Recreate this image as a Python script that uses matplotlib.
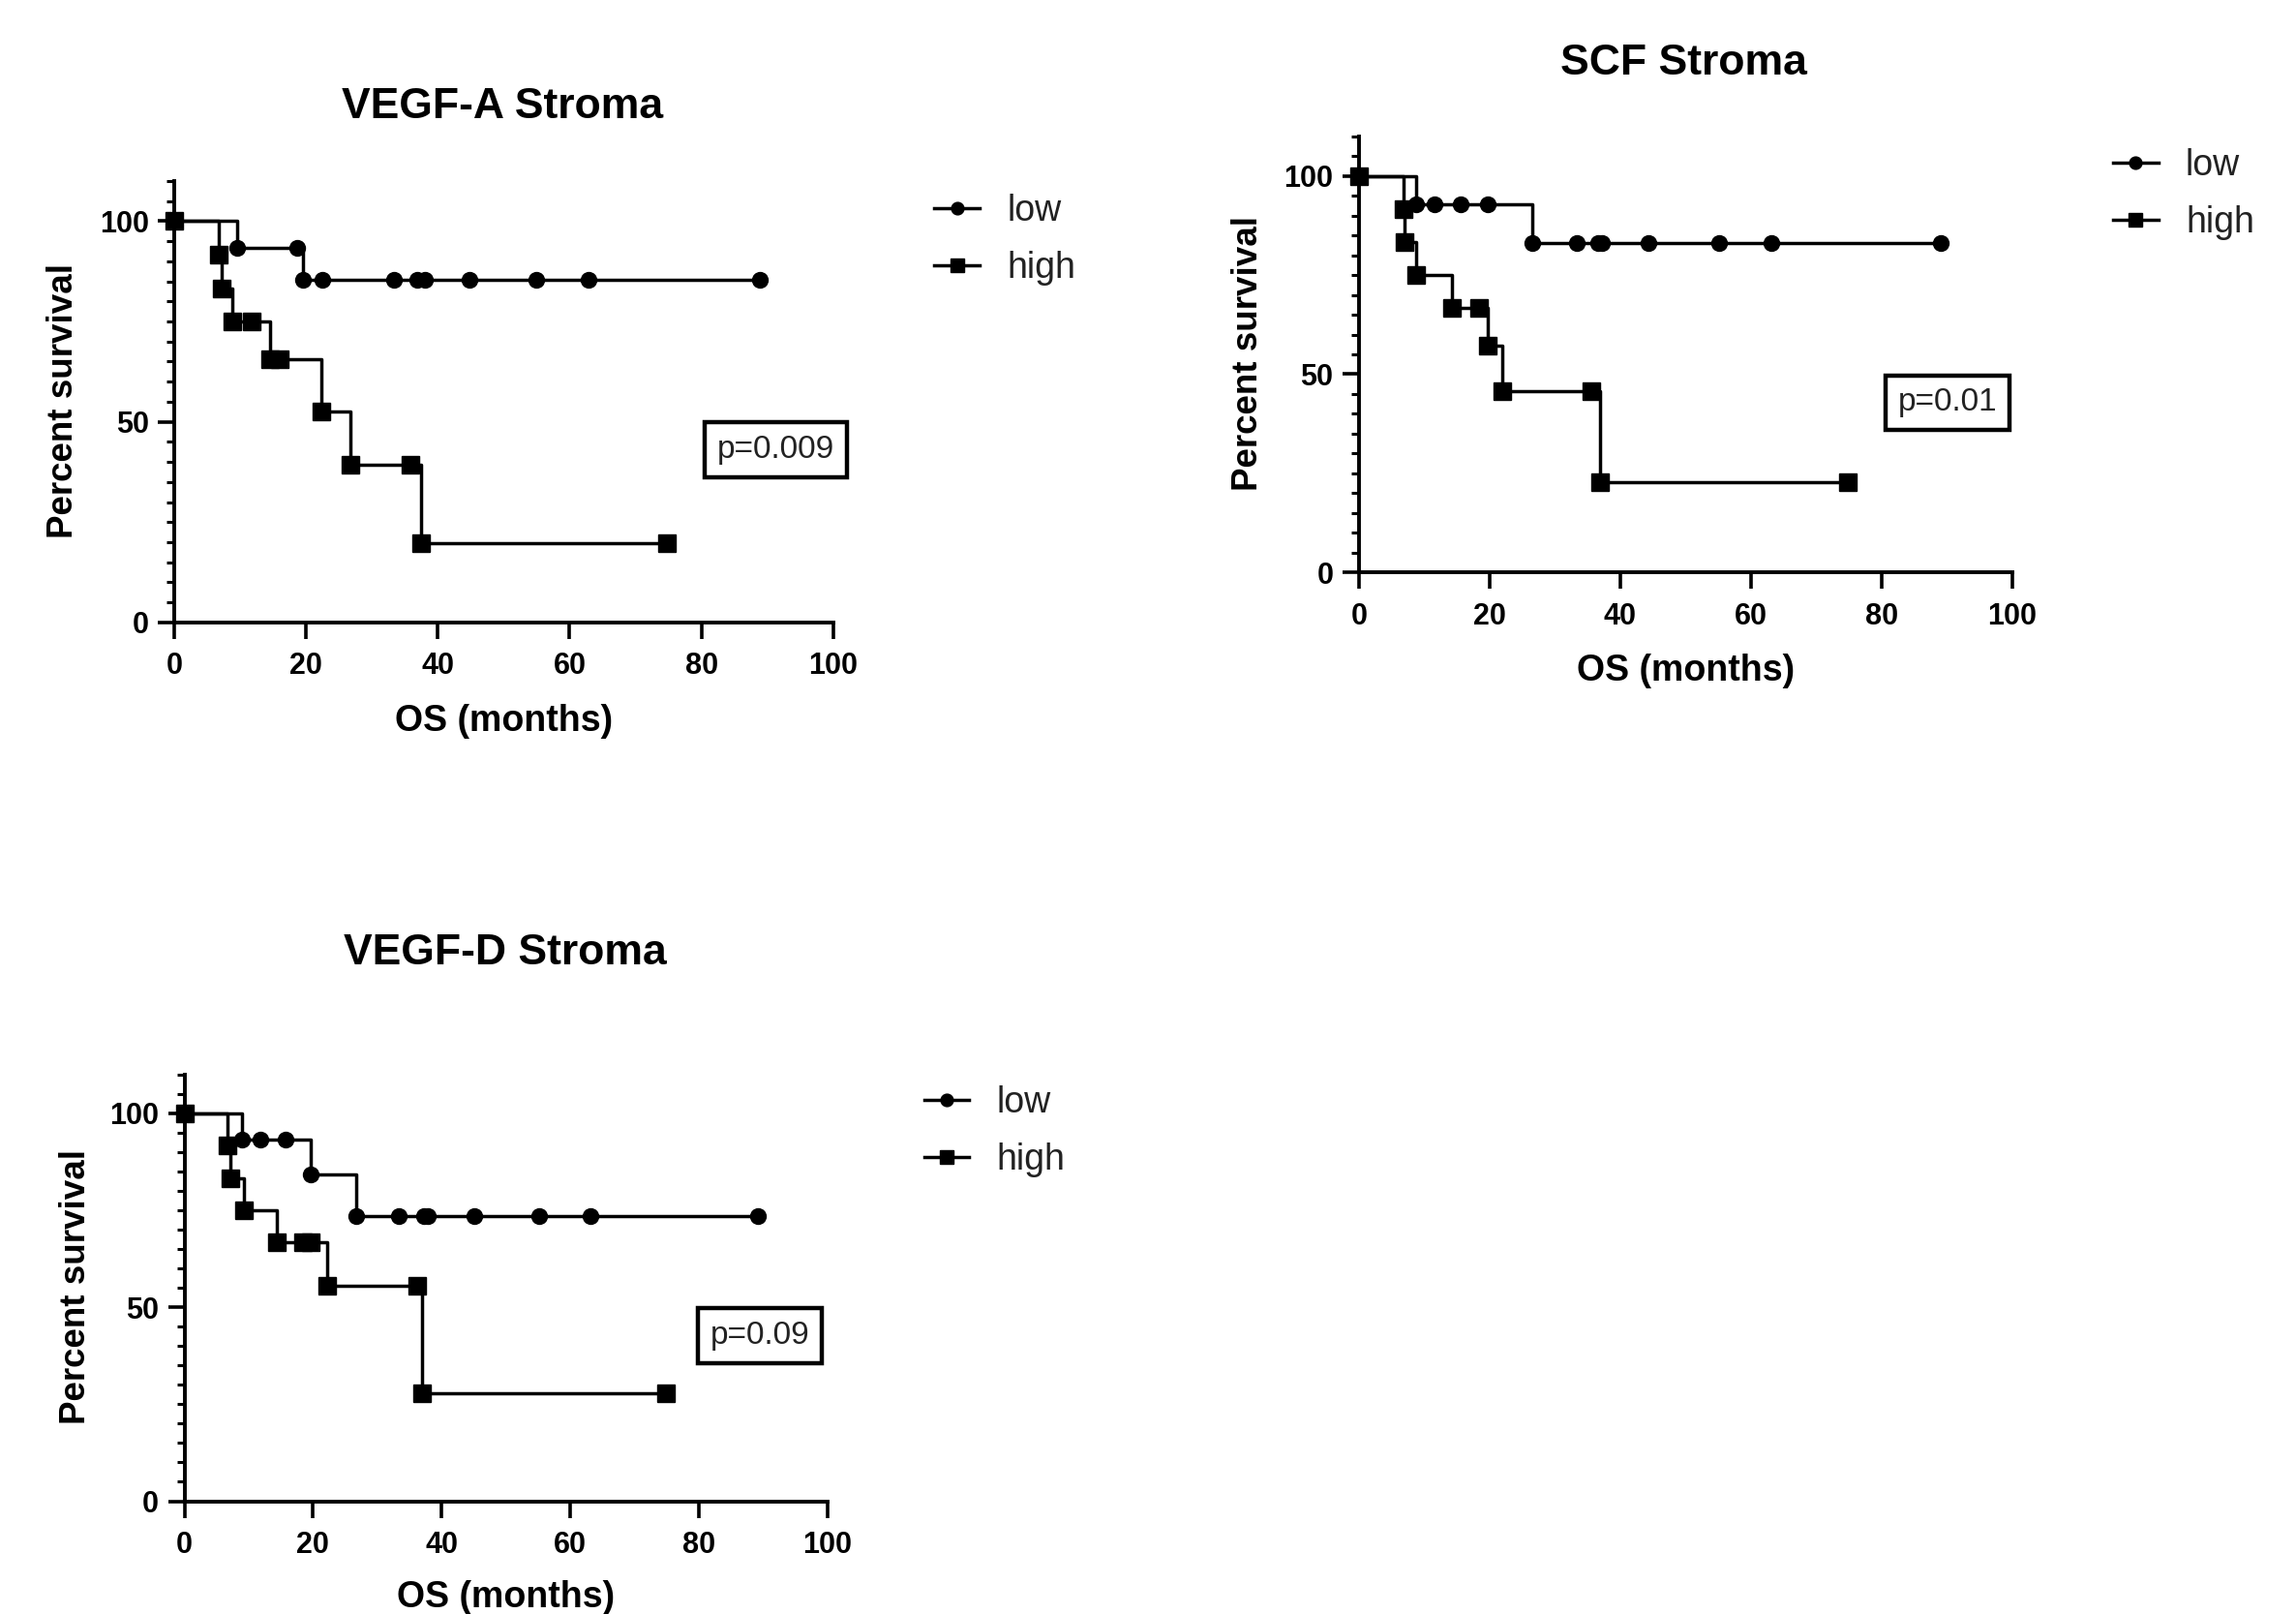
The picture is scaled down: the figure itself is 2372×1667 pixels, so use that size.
import matplotlib
matplotlib.use("Agg")
import matplotlib.pyplot as plt
from matplotlib.ticker import MultipleLocator

plt.rcParams['font.family'] = ['Liberation Sans', 'DejaVu Sans']

# ---------------- data (time in months, percent survival) ----------------
vegfa_low_t = [0, 9.5, 18.7, 19.5, 22.4, 33.3, 36.9, 38.0, 44.8, 55.0, 62.8, 88.9]
vegfa_low_s = [100, 93.3, 93.3, 85.5, 85.5, 85.5, 85.5, 85.5, 85.5, 85.5, 85.5, 85.5]
vegfa_high_t = [0, 6.8, 7.2, 8.8, 11.8, 14.5, 16.0, 22.3, 26.7, 35.9, 37.4, 74.7]
vegfa_high_s = [100, 91.7, 83.3, 75.0, 75.0, 65.6, 65.6, 52.5, 39.4, 39.4, 19.7, 19.7]

scf_low_t = [0, 8.7, 11.6, 15.6, 19.7, 26.5, 33.3, 36.7, 37.3, 44.4, 55.1, 63.1, 89.1]
scf_low_s = [100, 92.9, 92.9, 92.9, 92.9, 83.0, 83.0, 83.0, 83.0, 83.0, 83.0, 83.0, 83.0]
scf_high_t = [0, 6.8, 7.0, 8.8, 14.3, 18.4, 19.7, 22.0, 35.6, 36.9, 74.8]
scf_high_s = [100, 91.7, 83.3, 75.0, 66.7, 66.7, 57.1, 45.7, 45.7, 22.8, 22.8]

vegfd_low_t = [0, 9.0, 11.8, 15.7, 19.6, 26.7, 33.4, 37.2, 37.8, 45.1, 55.2, 63.1, 89.2]
vegfd_low_s = [100, 93.3, 93.3, 93.3, 84.2, 73.4, 73.4, 73.4, 73.4, 73.4, 73.4, 73.4, 73.4]
vegfd_high_t = [0, 6.7, 7.1, 9.2, 14.4, 18.5, 19.6, 22.2, 36.2, 37.0, 74.9]
vegfd_high_s = [100, 91.7, 83.3, 75.0, 66.7, 66.7, 66.7, 55.6, 55.6, 27.8, 27.8]

titles = ["VEGF-A Stroma", "SCF Stroma", "VEGF-D Stroma"]
p_labels = ["p=0.009", "p=0.01", "p=0.09"]
group_labels = ["low", "high"]
x_ticks = [0, 20, 40, 60, 80, 100]
y_ticks = [0, 50, 100]
x_label = "OS (months)"
y_label = "Percent survival"

# ---------------- layout ----------------
W, H = 1568.0, 1102.0  # reference coordinate frame used for placement


def fx(x):
    return x / W


def fy(y):
    return 1 - y / H


panels = [
    dict(rect=(119, 123.6, 569, 425), low=(vegfa_low_t, vegfa_low_s),
         high=(vegfa_high_t, vegfa_high_s), title_xy=(343, 73),
         leg_xy=(638, 132), p_xy=(530, 307)),
    dict(rect=(928, 92.9, 1374, 391), low=(scf_low_t, scf_low_s),
         high=(scf_high_t, scf_high_s), title_xy=(1150, 43),
         leg_xy=(1443, 101), p_xy=(1330, 275)),
    dict(rect=(126, 733.5, 565, 1025), low=(vegfd_low_t, vegfd_low_s),
         high=(vegfd_high_t, vegfd_high_s), title_xy=(345, 651),
         leg_xy=(631, 741), p_xy=(519, 912)),
]

fig = plt.figure(figsize=(23.72, 16.67), dpi=100)

for i, pn in enumerate(panels):
    x0, y0, x1, y1 = pn['rect']
    ax = fig.add_axes([fx(x0), fy(y1), fx(x1) - fx(x0), fy(y0) - fy(y1)])
    lt, ls = pn['low']
    ht, hs = pn['high']
    l1, = ax.plot(lt, ls, drawstyle='steps-post', color='black', lw=2.5,
                  marker='o', ms=11.5, clip_on=False, zorder=3, label=group_labels[0])
    l2, = ax.plot(ht, hs, drawstyle='steps-post', color='black', lw=2.5,
                  marker='s', ms=12.5, clip_on=False, zorder=4, label=group_labels[1])
    ax.set_xlim(0, 100)
    ax.set_ylim(0, 110)
    for s in ['top', 'right']:
        ax.spines[s].set_visible(False)
    for s in ['left', 'bottom']:
        ax.spines[s].set_linewidth(2.8)
    ax.set_xticks(x_ticks)
    ax.set_yticks(y_ticks)
    ax.yaxis.set_minor_locator(MultipleLocator(5))
    ax.tick_params(which='major', direction='out', length=12, width=2.6,
                   labelsize=22)
    ax.tick_params(axis='x', which='major', pad=10)
    ax.tick_params(axis='y', which='major', pad=7)
    ax.tick_params(which='minor', direction='out', length=6, width=2.2)
    plt.setp(ax.get_xticklabels(), fontweight='bold')
    plt.setp(ax.get_yticklabels(), fontweight='bold')
    ax.set_xlabel(x_label, fontsize=27, fontweight='bold')
    ax.set_ylabel(y_label, fontsize=26.5, fontweight='bold')
    ax.xaxis.set_label_coords(0.5, -0.185)
    ax.yaxis.set_label_coords(-0.143, 0.503)

    fig.text(fx(pn['title_xy'][0]), fy(pn['title_xy'][1]), titles[i],
             ha='center', va='center', fontsize=32, fontweight='bold')

    leg = ax.legend(handles=[l1, l2], loc='upper left',
                    bbox_to_anchor=(fx(pn['leg_xy'][0]), fy(pn['leg_xy'][1])),
                    bbox_transform=fig.transFigure, frameon=False, fontsize=27,
                    handlelength=1.25, handletextpad=0.75, labelspacing=0.62,
                    borderpad=0, borderaxespad=0, markerscale=0.8)
    for t in leg.get_texts():
        t.set_color('#222222')

    fig.text(fx(pn['p_xy'][0]), fy(pn['p_xy'][1]), p_labels[i],
             ha='center', va='center', fontsize=24, color='#222222',
             bbox=dict(boxstyle='square,pad=0.38', fc='white', ec='black', lw=3.2))

fig.savefig('out.png', dpi=100, facecolor='white')
